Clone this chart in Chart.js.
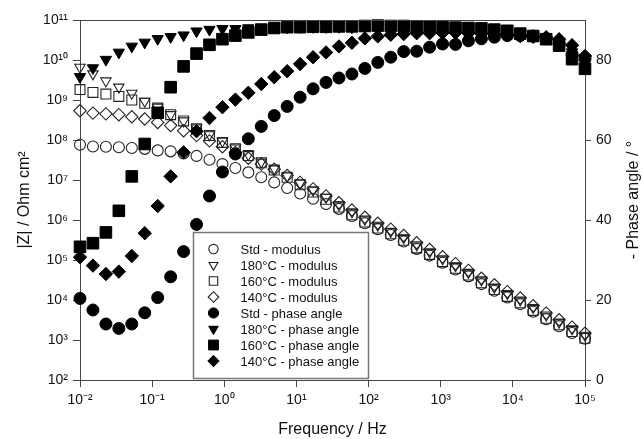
<!DOCTYPE html>
<html>
<head>
<meta charset="utf-8">
<script src="https://cdn.jsdelivr.net/npm/chart.js@4.4.0/dist/chart.umd.min.js"></script>
<style>
  body { margin: 0; background: #fff; }
  #wrap { width: 643px; height: 439px; position: relative; }
</style>
</head>
<body>
<div id="wrap"><canvas id="bode"></canvas></div>
<script>
// Frequencies (Hz), 40 points from 0.01 Hz to 100 kHz
const freq = [0.01, 0.01512, 0.02286, 0.03456, 0.05223, 0.07897, 0.1194, 0.1805, 0.2729, 0.4125,
  0.6236, 0.9427, 1.425, 2.154, 3.257, 4.924, 7.443, 11.25, 17.01, 25.72,
  38.88, 58.78, 88.86, 134.3, 203.1, 307.0, 464.2, 701.7, 1061, 1604,
  2424, 3665, 5541, 8377, 12664, 19145, 28943, 43755, 66147, 100000];

// |Z| (Ohm cm2)
const modStd = [7.6e7, 6.9e7, 6.8e7, 6.6e7, 6.3e7, 6.0e7, 5.5e7, 5.2e7, 4.6e7, 4.0e7,
  3.2e7, 2.5e7, 2.0e7, 1.55e7, 1.17e7, 8.7e6, 6.3e6, 4.6e6, 3.4e6, 2.5e6,
  1.9e6, 1.26e6, 8.3e5, 5.9e5, 4.2e5, 2.9e5, 1.9e5, 1.29e5, 8.5e4, 5.8e4,
  3.9e4, 2.5e4, 1.7e4, 1.15e4, 7.9e3, 5.1e3, 3.3e3, 2.2e3, 1.5e3, 1.07e3];
const mod180 = [6.6e9, 4.5e9, 3.0e9, 2.1e9, 1.48e9, 9.3e8, 6.6e8, 4.3e8, 3.0e8, 2.0e8,
  1.35e8, 9.3e7, 6.3e7, 4.3e7, 2.8e7, 1.9e7, 1.26e7, 8.3e6, 5.6e6, 3.7e6,
  2.4e6, 1.6e6, 1.05e6, 7.4e5, 5.2e5, 3.6e5, 2.4e5, 1.6e5, 1.07e5, 7.2e4,
  4.9e4, 3.2e4, 2.1e4, 1.45e4, 1.0e4, 6.5e3, 4.2e3, 2.8e3, 1.9e3, 1.32e3];
const mod160 = [1.82e9, 1.55e9, 1.41e9, 1.23e9, 1.0e9, 8.3e8, 6.3e8, 4.3e8, 3.0e8, 1.9e8,
  1.29e8, 8.7e7, 6.0e7, 4.1e7, 2.7e7, 1.78e7, 1.17e7, 7.6e6, 5.0e6, 3.3e6,
  2.1e6, 1.35e6, 8.9e5, 6.3e5, 4.5e5, 3.1e5, 2.0e5, 1.38e5, 9.1e4, 6.2e4,
  4.2e4, 2.7e4, 1.82e4, 1.23e4, 8.5e3, 5.5e3, 3.5e3, 2.4e3, 1.62e3, 1.1e3];
const mod140 = [5.4e8, 4.7e8, 4.5e8, 4.3e8, 3.8e8, 3.35e8, 2.75e8, 2.3e8, 1.7e8, 1.29e8,
  9.5e7, 6.8e7, 4.9e7, 3.5e7, 2.5e7, 1.86e7, 1.29e7, 8.7e6, 6.0e6, 4.0e6,
  2.7e6, 1.78e6, 1.17e6, 8.3e5, 5.9e5, 4.1e5, 2.7e5, 1.82e5, 1.2e5, 8.1e4,
  5.5e4, 3.5e4, 2.4e4, 1.62e4, 1.12e4, 7.2e3, 4.7e3, 3.2e3, 2.1e3, 1.48e3];

// - phase angle (degrees)
const phaseStd = [20.4, 17.5, 14, 12.9, 14, 16.8, 20.6, 25.8, 32.1, 38.9,
  46, 52, 56.5, 60.3, 63.4, 66.1, 68.4, 70.7, 72.8, 74.4,
  75.5, 76.5, 77.9, 79.4, 80.7, 82.1, 82.2, 83.2, 84, 83.9,
  84.8, 85.3, 85.7, 86.1, 86.1, 86, 85.3, 84, 81.5, 80.3];
const phase180 = [75.8, 78, 80.1, 81.9, 83.4, 84.4, 85.3, 85.8, 86.2, 87.2,
  87.6, 87.8, 87.8, 88, 88.1, 88.2, 88.2, 88.3, 88.3, 88.3,
  88.3, 88.2, 88.2, 88.1, 88, 87.9, 87.8, 87.5, 87.3, 87.2,
  87, 87, 86.8, 86.5, 86.3, 86, 85.5, 84.5, 82, 80.5];
const phase160 = [33.3, 34.2, 36.9, 42.3, 50.9, 59, 66.8, 73.2, 78.4, 81.6,
  83.8, 85.2, 86.1, 86.9, 87.6, 88, 88.2, 88.2, 88.3, 88.3,
  88.4, 88.4, 88.5, 88.6, 88.5, 88.5, 88.4, 88.3, 88.2, 88.1,
  88, 87.9, 87.6, 87.3, 86.6, 86, 85.2, 83.6, 80.2, 77.8];
const phase140 = [30.7, 28.6, 26.5, 27.1, 31, 36.7, 43.5, 50.9, 56.9, 62.2,
  65.5, 68.2, 70.1, 71.8, 74, 75.7, 77.2, 79, 80.7, 81.9,
  83.4, 84.3, 85.4, 85.9, 86.3, 86.5, 86.7, 86.7, 86.8, 86.8,
  86.7, 86.6, 86.4, 86.2, 86, 85.8, 85.7, 85.2, 83.7, 81];

const labels = ["Std - modulus", "180°C - modulus", "160°C - modulus", "140°C - modulus",
  "Std - phase angle", "180°C - phase angle", "160°C - phase angle", "140°C - phase angle"];

const freqTicks = [1e-2, 1e-1, 1e0, 1e1, 1e2, 1e3, 1e4, 1e5];
const modTicks = [1e2, 1e3, 1e4, 1e5, 1e6, 1e7, 1e8, 1e9, 1e10, 1e11];
const phaseTicks = [0, 20, 40, 60, 80];

const INK = "#111";
const AXIS = "#444";
const FONT = "'Liberation Sans', Arial, sans-serif";

const sup = { "-": "\u207B", "0": "\u2070", "1": "\u00B9", "2": "\u00B2", "3": "\u00B3",
  "4": "\u2074", "5": "\u2075", "6": "\u2076", "7": "\u2077", "8": "\u2078", "9": "\u2079" };
function powLabel(v) {
  const e = Math.round(Math.log10(v));
  return "10" + String(e).split("").map(c => sup[c]).join("");
}

function series(ys) {
  return freq.map((f, i) => ({ x: f, y: ys[i] }));
}

function openSet(label, ys, style, radius, rot) {
  return {
    label, data: series(ys), yAxisID: "y", order: 2,
    pointStyle: style, pointRadius: radius, pointRotation: rot || 0,
    backgroundColor: "rgba(0,0,0,0)", borderColor: "#222", borderWidth: 1.1,
    pointHoverRadius: radius, clip: false
  };
}
function filledSet(label, ys, style, radius, rot) {
  return {
    label, data: series(ys), yAxisID: "y2", order: 1,
    pointStyle: style, pointRadius: radius, pointRotation: rot || 0,
    backgroundColor: "#000", borderColor: "#000", borderWidth: 1,
    pointHoverRadius: radius, clip: false
  };
}

// legend box, top frame line and right title
const extras = {
  id: "extras",
  afterDatasetsDraw(chart) {
    const ctx = chart.ctx, a = chart.chartArea;
    ctx.save();
    ctx.strokeStyle = AXIS;
    ctx.lineWidth = 1;
    ctx.beginPath();
    ctx.moveTo(a.left, a.top + 0.5);
    ctx.lineTo(a.right, a.top + 0.5);
    ctx.stroke();

    const x0 = a.left + 113.5, y0 = a.top + 212.5, w = 175, h = 146;
    ctx.fillStyle = "#fff";
    ctx.fillRect(x0, y0, w, h);
    ctx.strokeStyle = "#777";
    ctx.lineWidth = 1.5;
    ctx.strokeRect(x0, y0, w, h);

    ctx.font = "13px " + FONT;
    ctx.textBaseline = "middle";
    chart.data.datasets.forEach((ds, i) => {
      const y = y0 + 16.5 + i * 16;
      ctx.fillStyle = ds.backgroundColor;
      ctx.strokeStyle = ds.borderColor;
      ctx.lineWidth = ds.borderWidth;
      Chart.helpers.drawPoint(ctx, {
        pointStyle: ds.pointStyle, radius: ds.pointRadius * 0.85,
        rotation: ds.pointRotation, borderWidth: ds.borderWidth
      }, x0 + 20, y);
      ctx.fillStyle = INK;
      ctx.fillText(ds.label, x0 + 47, y + 1);
    });

    ctx.translate(634, (a.top + a.bottom) / 2);
    ctx.rotate(-Math.PI / 2);
    ctx.font = "16px " + FONT;
    ctx.textAlign = "center";
    ctx.fillStyle = INK;
    ctx.fillText("- Phase angle / \u00B0", 0, 0);
    ctx.restore();
  }
};

new Chart(document.getElementById("bode"), {
  type: "scatter",
  data: {
    datasets: [
      openSet(labels[0], modStd, "circle", 5.5),
      openSet(labels[1], mod180, "triangle", 6, 180),
      openSet(labels[2], mod160, "rect", 7),
      openSet(labels[3], mod140, "rectRot", 6.2),
      filledSet(labels[4], phaseStd, "circle", 6),
      filledSet(labels[5], phase180, "triangle", 6.5, 180),
      filledSet(labels[6], phase160, "rect", 8.2),
      filledSet(labels[7], phase140, "rectRot", 6.7)
    ]
  },
  options: {
    responsive: true,
    maintainAspectRatio: false,
    animation: false,
    layout: { padding: { top: 20, left: 0, right: 0, bottom: 0 } },
    plugins: { legend: { display: false }, tooltip: { enabled: false } },
    scales: {
      x: {
        type: "logarithmic", position: "bottom", min: 1e-2, max: 1e5,
        afterBuildTicks: s => { s.ticks = freqTicks.map(v => ({ value: v })); },
        afterFit: s => { s.height = 59; },
        ticks: { callback: v => powLabel(v), color: INK, font: { size: 14, family: FONT },
          padding: 5, autoSkip: false, maxRotation: 0 },
        grid: { drawOnChartArea: false, drawTicks: true, tickLength: 7, color: AXIS },
        border: { color: AXIS, width: 1 },
        title: { display: true, text: "Frequency / Hz", color: INK,
          font: { size: 16, family: FONT }, padding: { top: 0, bottom: 0 } }
      },
      y: {
        type: "logarithmic", position: "left", min: 1e2, max: 1e11,
        afterBuildTicks: s => { s.ticks = modTicks.map(v => ({ value: v })); },
        afterFit: s => { s.width = 80; },
        ticks: { callback: v => powLabel(v), color: INK, font: { size: 14, family: FONT }, padding: 5 },
        grid: { drawOnChartArea: false, drawTicks: true, tickLength: 7, color: AXIS },
        border: { color: AXIS, width: 1 },
        title: { display: true, text: "|Z| / Ohm cm\u00B2", color: INK,
          font: { size: 16, family: FONT }, padding: { top: 15, bottom: 0 } }
      },
      y2: {
        type: "linear", position: "right", min: 0, max: 90,
        afterBuildTicks: s => { s.ticks = phaseTicks.map(v => ({ value: v })); },
        afterFit: s => { s.width = 58; },
        ticks: { color: INK, font: { size: 14, family: FONT }, padding: 5 },
        grid: { drawOnChartArea: false, drawTicks: true, tickLength: 6, color: AXIS },
        border: { color: AXIS, width: 1 }
      }
    }
  },
  plugins: [extras]
});
</script>
</body>
</html>
